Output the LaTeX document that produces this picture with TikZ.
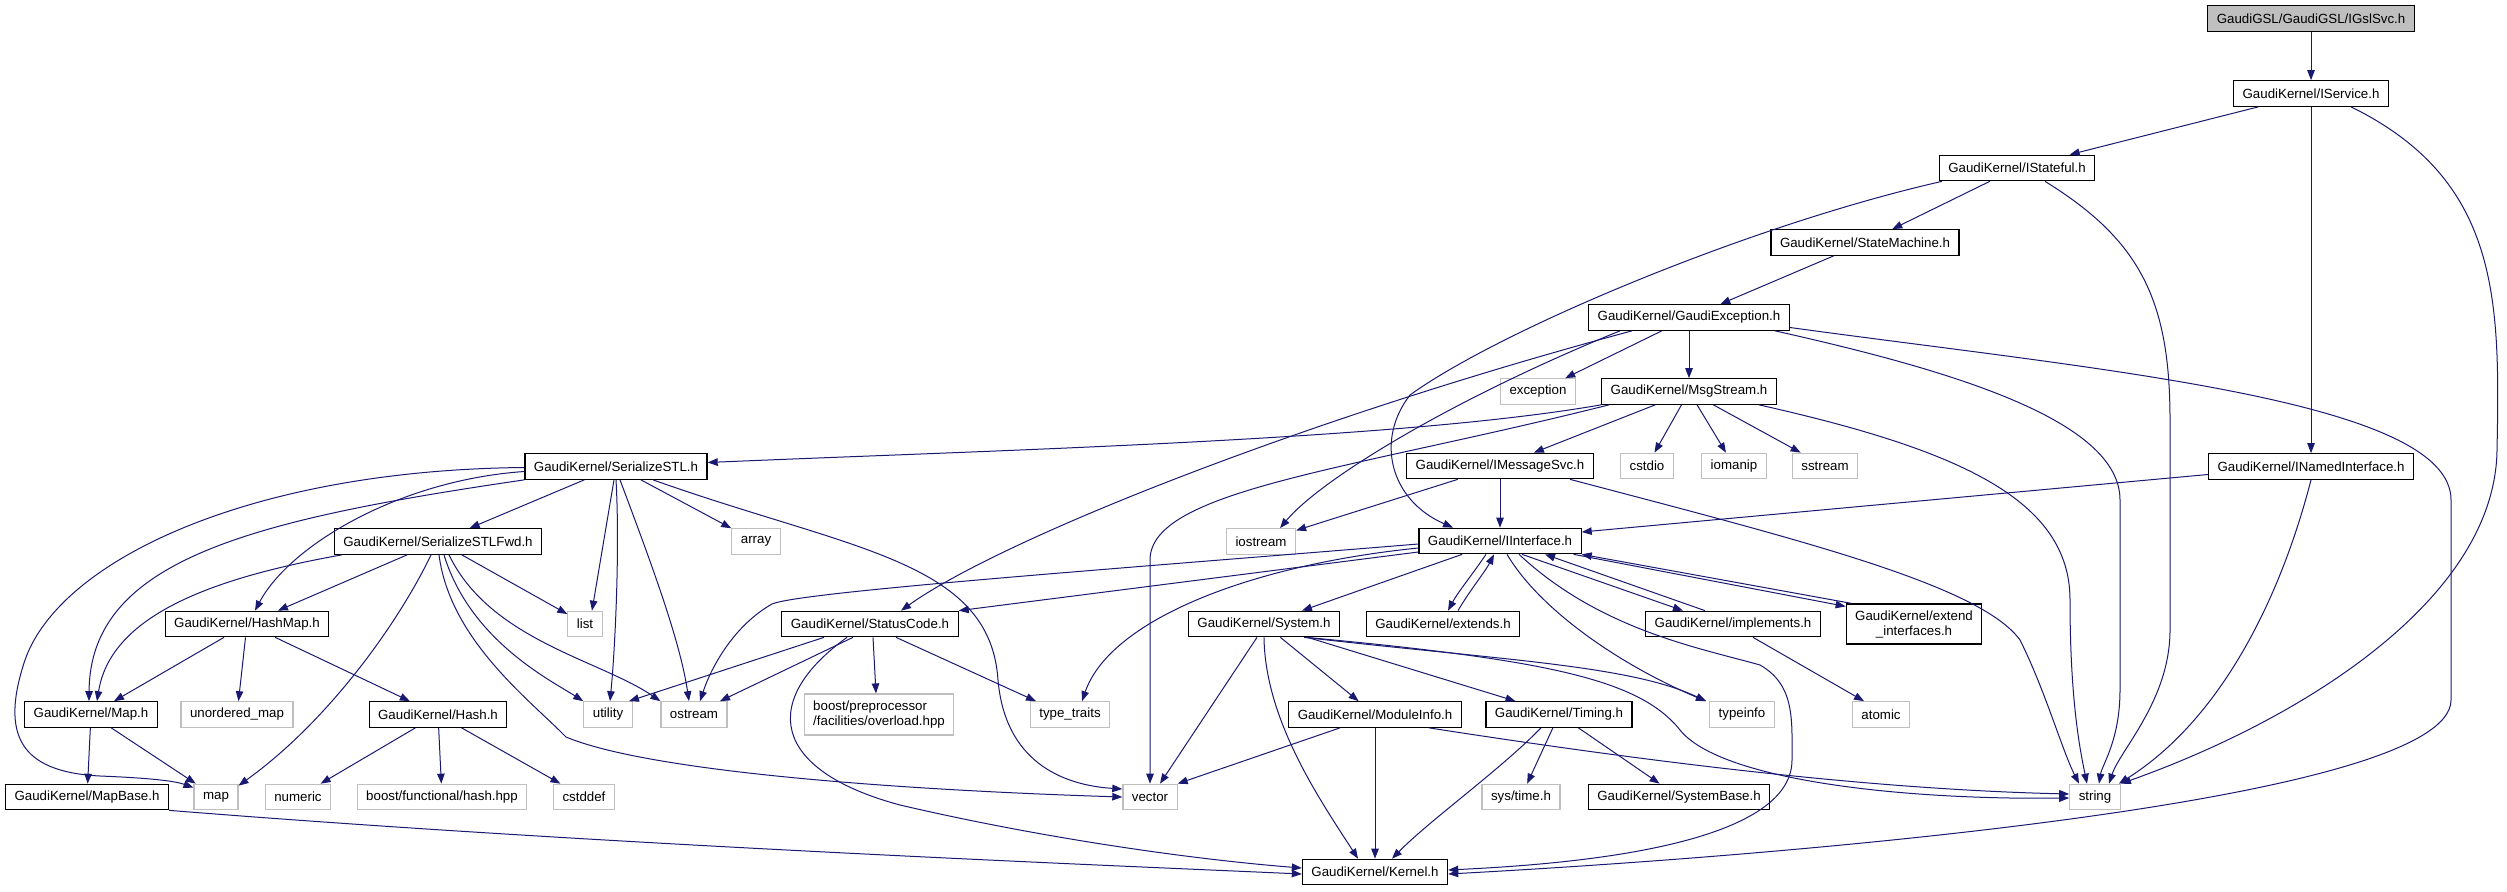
\documentclass[tikz,border=0pt]{standalone}
\usepackage{fontspec}
\setmainfont{Liberation Sans}
\usepackage{tikz}
\usepackage{xcolor}
\usetikzlibrary{arrows.meta}

\definecolor{edgeblue}{HTML}{191970}
\definecolor{boxgrey}{HTML}{BFBFBF}

\begin{document}
\begin{tikzpicture}[x=1pt,y=-1pt,
	hfile/.style={draw=black, line width=1.2pt, fill=white, font=\fontsize{13.3}{15}\selectfont, inner xsep=9pt, inner ysep=0pt, minimum height=25.5pt},
	sysfile/.style={hfile, draw=boxgrey},
	mainfile/.style={hfile, fill=boxgrey},
	incl/.style={draw=edgeblue, line width=1pt, -{Triangle[length=10pt,width=7.5pt]}}]
				\useasboundingbox (0,0) rectangle (2507,891);
				\node[mainfile] (gsl) at (2311,18.5){GaudiGSL/GaudiGSL/IGslSvc.h};
				\node[hfile] (svc) at (2311,93.5){GaudiKernel/IService.h};
				\node[hfile] (stf) at (2017,168){GaudiKernel/IStateful.h};
				\node[hfile] (stm) at (1865,242.5){GaudiKernel/StateMachine.h};
				\node[hfile] (exc) at (1689,317.5){GaudiKernel/GaudiException.h};
				\node[sysfile] (excp) at (1538,391.5){exception};
				\node[hfile] (msg) at (1689,391.5){GaudiKernel/MsgStream.h};
				\node[hfile] (ser) at (616,466.5){GaudiKernel/SerializeSTL.h};
				\node[sysfile] (cstdio) at (1647,466){cstdio};
				\node[sysfile] (iomanip) at (1734,466){iomanip};
				\node[sysfile] (sstream) at (1825,466){sstream};
				\node[hfile] (msv) at (1500,466){GaudiKernel/IMessageSvc.h};
				\node[hfile] (nam) at (2311,466.5){GaudiKernel/INamedInterface.h};
				\node[hfile] (fwd) at (438,541.5){GaudiKernel/SerializeSTLFwd.h};
				\node[sysfile] (array) at (756,541.5){array};
				\node[sysfile] (iostream) at (1261,541.5){iostream};
				\node[hfile] (ifc) at (1500,541){GaudiKernel/IInterface.h};
				\node[hfile] (hmap) at (247,624){GaudiKernel/HashMap.h};
				\node[sysfile] (list) at (585,624){list};
				\node[hfile] (stc) at (870,624){GaudiKernel/StatusCode.h};
				\node[hfile] (sys) at (1264,624){GaudiKernel/System.h};
				\node[hfile] (ext) at (1443,624){GaudiKernel/extends.h};
				\node[hfile] (imp) at (1733,624){GaudiKernel/implements.h};
				\node[hfile, align=center, minimum height=40pt] (exi) at (1914,624){GaudiKernel/extend\\\_interfaces.h};
				\node[hfile] (map) at (91,714.5){GaudiKernel/Map.h};
				\node[sysfile] (umap) at (237,714.5){unordered\_map};
				\node[hfile] (hash) at (438,714.5){GaudiKernel/Hash.h};
				\node[sysfile] (utility) at (608,714.5){utility};
				\node[sysfile] (ostream) at (694,714.5){ostream};
				\node[sysfile, align=left, minimum height=41pt] (pp) at (879,714.5){boost/preprocessor\\/facilities/overload.hpp};
				\node[sysfile] (ttr) at (1070,714.5){type\_traits};
				\node[hfile] (mod) at (1375,714.5){GaudiKernel/ModuleInfo.h};
				\node[hfile] (tim) at (1559,714.5){GaudiKernel/Timing.h};
				\node[sysfile] (tinfo) at (1742,714.5){typeinfo};
				\node[sysfile] (atomic) at (1881,714.5){atomic};
				\node[hfile] (mbase) at (87,797){GaudiKernel/MapBase.h};
				\node[sysfile] (stdmap) at (216,797){map};
				\node[sysfile] (numeric) at (298,797){numeric};
				\node[sysfile] (bfh) at (442,797){boost/functional/hash.hpp};
				\node[sysfile] (cstddef) at (584,797){cstddef};
				\node[sysfile] (vector) at (1150,797){vector};
				\node[sysfile] (systime) at (1521,797){sys/time.h};
				\node[hfile] (sbase) at (1679,797){GaudiKernel/SystemBase.h};
				\node[sysfile] (string) at (2095,797){string};
				\node[hfile] (ker) at (1375,872){GaudiKernel/Kernel.h};
				\draw[incl] (gsl) -- (svc);
				\draw[incl] (svc) -- (stf);
				\draw[incl] (svc) -- (nam);
				\draw[incl] ([xshift=40pt]svc.south) .. controls (2500,180) and (2500,300) .. (2497,450) .. controls (2495,600) and (2300,720) .. (string.north east);
				\draw[incl] (stf) -- (stm);
				\draw[incl] ([xshift=-75pt]stf.south) .. controls (1750,225) and (1500,330) .. (1410,395) .. controls (1375,440) and (1390,500) .. ([xshift=-47pt]ifc.north);
				\draw[incl] ([xshift=28pt]stf.south) .. controls (2140,240) and (2170,300) .. (2170,420) -- (2170,630) .. controls (2170,700) and (2120,750) .. ([xshift=14pt]string.north);
				\draw[incl] (stm) -- (exc);
				\draw[incl] (exc) -- (excp);
				\draw[incl] (exc) -- (msg);
				\draw[incl] ([xshift=-57pt]exc.south) .. controls (1300,420) and (1000,540) .. ([xshift=31pt]stc.north);
				\draw[incl] ([xshift=-69pt]exc.south) .. controls (1450,400) and (1320,480) .. ([xshift=19pt]iostream.north);
				\draw[incl] ([xshift=86pt]exc.south) .. controls (1950,370) and (2120,420) .. (2120,500) -- (2120,690) .. controls (2120,740) and (2102,765) .. ([xshift=4pt]string.north);
				\draw[incl] ([yshift=-10pt]exc.east) .. controls (2100,370) and (2451,400) .. (2451,500) -- (2451,700) .. controls (2451,800) and (1800,855) .. ([yshift=-2pt]ker.east);
				\draw[incl] ([xshift=-88pt]msg.south) .. controls (1400,440) and (1000,450) .. ([yshift=4pt]ser.east);
				\draw[incl] ([xshift=-80pt]msg.south) .. controls (1350,470) and (1150,490) .. (1150,560) -- (vector.north);
				\draw[incl] (msg) -- (msv);
				\draw[incl] (msg) -- (cstdio);
				\draw[incl] (msg) -- (iomanip);
				\draw[incl] (msg) -- (sstream);
				\draw[incl] ([xshift=70pt]msg.south) .. controls (1960,450) and (2070,500) .. (2070,600) .. controls (2070,700) and (2080,750) .. ([xshift=-8pt]string.north);
				\draw[incl] (msv) -- (ifc);
				\draw[incl] (msv) -- (iostream);
				\draw[incl] ([xshift=70pt]msv.south) .. controls (1800,540) and (1980,585) .. (2020,640) .. controls (2045,690) and (2062,750) .. ([xshift=-16pt]string.north);
				\draw[incl] ([yshift=-8pt]nam.west) -- ([yshift=9pt]ifc.east);
				\draw[incl] (nam.south) .. controls (2280,600) and (2220,720) .. ([xshift=-2pt]string.north east);
				\draw[incl] ([yshift=-3pt]ifc.west) .. controls (1100,570) and (800,592) .. (772,604) .. controls (735,625) and (712,665) .. ([xshift=6pt]ostream.north);
				\draw[incl] ([yshift=-7pt]ifc.west) .. controls (1250,565) and (1110,620) .. ([xshift=12pt]ttr.north);
				\draw[incl] ([yshift=-11pt]ifc.west) -- (stc.north east);
				\draw[incl] (ifc) -- (sys);
				\draw[incl] ([xshift=-14pt]ifc.south) .. controls (1472,575) and (1458,592) .. ([xshift=5pt]ext.north);
				\draw[incl] ([xshift=15pt]ext.north) .. controls (1470,590) and (1485,572) .. ([xshift=-6pt]ifc.south);
				\draw[incl] ([xshift=22pt]ifc.south) -- ([xshift=-50pt]imp.north);
				\draw[incl] ([xshift=-28pt]imp.north) -- ([xshift=45pt]ifc.south);
				\draw[incl] ([xshift=-8pt]ifc.south east) -- ([yshift=-3pt]exi.north west);
				\draw[incl] ([xshift=6pt]exi.north west) -- (ifc.south east);
				\draw[incl] ([xshift=7pt]ifc.south) .. controls (1540,610) and (1620,665) .. ([xshift=-36pt]tinfo.north);
				\draw[incl] ([xshift=19pt]ifc.south) .. controls (1600,630) and (1700,648) .. (1760,665) .. controls (1795,685) and (1792,720) .. (1792,760) .. controls (1792,850) and (1550,865) .. ([yshift=2pt]ker.east);
				\draw[incl] (ser) -- (fwd);
				\draw[incl] ([yshift=-1pt]ser.west) .. controls (250,470) and (60,560) .. (25,660) .. controls (0,735) and (20,772) .. (100,776) .. controls (150,778) and (175,781) .. ([yshift=-4pt]stdmap.north west);
				\draw[incl] ([yshift=-5pt]ser.west) .. controls (400,480) and (290,545) .. ([xshift=8pt]hmap.north);
				\draw[incl] (ser.south west) .. controls (250,520) and (90,560) .. ([xshift=-2pt]map.north);
				\draw[incl] ([xshift=-2pt]ser.south) -- ([xshift=7pt]list.north);
				\draw[incl] (ser.south) .. controls (620,550) and (615,650) .. ([xshift=2pt]utility.north);
				\draw[incl] ([xshift=4pt]ser.south) .. controls (650,560) and (680,640) .. ([xshift=-5pt]ostream.north);
				\draw[incl] (ser) -- (array);
				\draw[incl] ([xshift=37pt]ser.south) .. controls (850,550) and (990,560) .. (998,680) .. controls (1005,760) and (1060,785) .. ([yshift=8pt]vector.west);
				\draw[incl] (fwd) -- (hmap);
				\draw[incl] ([xshift=-96pt]fwd.south) .. controls (200,580) and (110,620) .. ([xshift=6pt]map.north);
				\draw[incl] ([xshift=-7pt]fwd.south) .. controls (400,620) and (330,720) .. ([yshift=-2pt]stdmap.north east);
				\draw[incl] (fwd) -- (list);
				\draw[incl] ([xshift=6pt]fwd.south) .. controls (470,640) and (550,680) .. (utility.north west);
				\draw[incl] ([xshift=11pt]fwd.south) .. controls (490,640) and (600,660) .. (ostream.north west);
				\draw[incl] ([xshift=1pt]fwd.south) .. controls (450,640) and (530,700) .. (566,737) .. controls (650,772) and (900,790) .. (vector.west);
				\draw[incl] (hmap) -- (map);
				\draw[incl] (hmap) -- (umap);
				\draw[incl] (hmap) -- (hash);
				\draw[incl] (map) -- (mbase);
				\draw[incl] (map) -- (stdmap);
				\draw[incl] (hash) -- (numeric);
				\draw[incl] (hash) -- (bfh);
				\draw[incl] (hash) -- (cstddef);
				\draw[incl] (mbase.south east) .. controls (600,845) and (1100,865) .. ([yshift=-2pt]ker.west);
				\draw[incl] ([xshift=-46pt]stc.south) -- ([xshift=21pt]utility.north);
				\draw[incl] ([xshift=-17pt]stc.south) -- ([xshift=26pt]ostream.north);
				\draw[incl] ([xshift=3pt]stc.south) -- ([xshift=-3pt]pp.north);
				\draw[incl] ([xshift=26pt]stc.south) -- ([xshift=-34pt]ttr.north);
				\draw[incl] ([xshift=-23pt]stc.south) .. controls (760,700) and (770,770) .. (900,805) .. controls (1050,840) and (1200,860) .. ([yshift=4pt]ker.west);
				\draw[incl] ([xshift=-7pt]sys.south) -- ([xshift=10pt]vector.north);
				\draw[incl] (sys.south) .. controls (1265,720) and (1320,800) .. ([xshift=-17pt]ker.north);
				\draw[incl] (sys) -- (mod);
				\draw[incl] (sys) -- (tim);
				\draw[incl] ([xshift=40pt]sys.south) .. controls (1500,660) and (1630,665) .. ([xshift=-36pt]tinfo.north);
				\draw[incl] ([xshift=42pt]sys.south) .. controls (1550,660) and (1640,680) .. (1680,730) .. controls (1720,780) and (1900,800) .. ([yshift=-1pt]string.west);
				\draw[incl] ([xshift=-35pt]mod.south) -- (vector.north east);
				\draw[incl] (mod) -- (ker);
				\draw[incl] ([xshift=54pt]mod.south) .. controls (1700,770) and (1900,790) .. ([yshift=3pt]string.west);
				\draw[incl] (tim) -- (systime);
				\draw[incl] (tim) -- (sbase);
				\draw[incl] ([xshift=-18pt]tim.south) .. controls (1500,770) and (1430,820) .. ([xshift=17pt]ker.north);
				\draw[incl] ([xshift=20pt]imp.south) -- ([xshift=-17pt]atomic.north);
			\end{tikzpicture}
\end{document}
